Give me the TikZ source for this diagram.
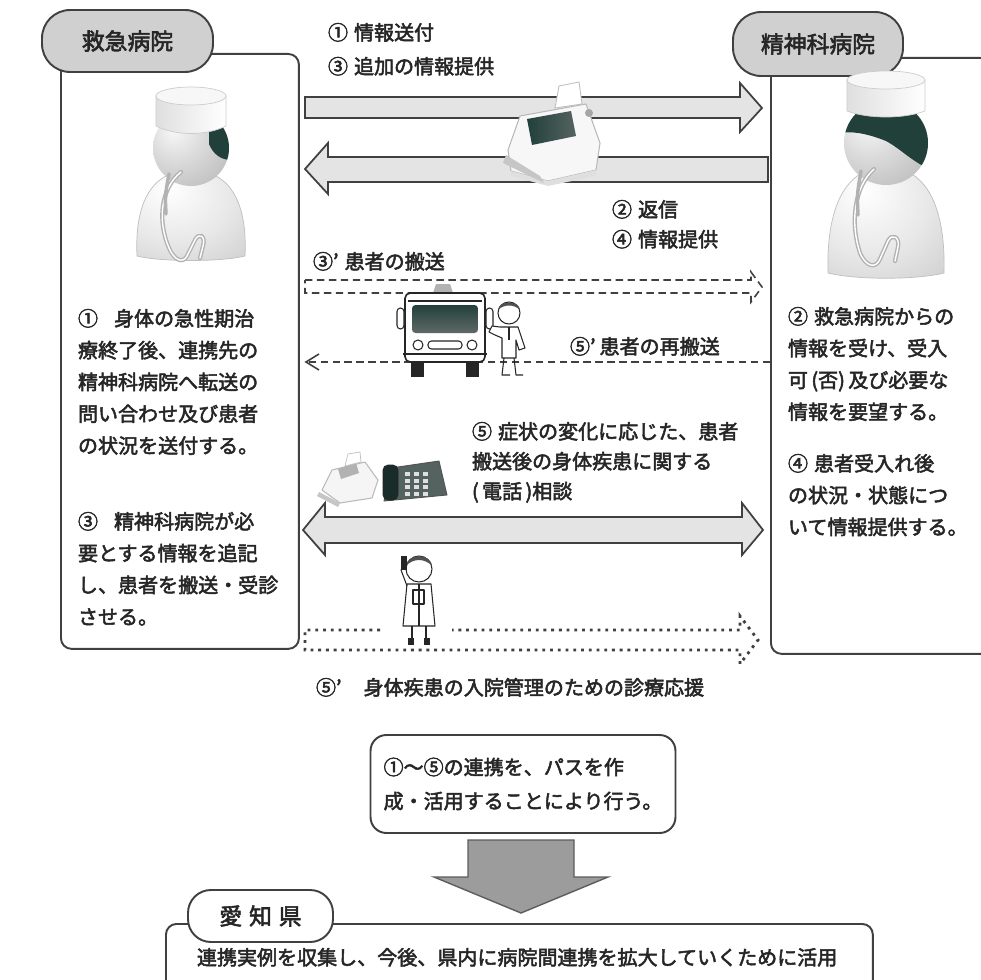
\documentclass[tikz,border=0pt]{standalone}
\usepackage{fontspec}
\setmainfont{Noto Sans CJK JP}[FakeBold=2.5]
\usetikzlibrary{calc}
\definecolor{ink}{HTML}{262626}
\definecolor{rule}{HTML}{404040}
\definecolor{pillgray}{HTML}{D0D0D0}
\definecolor{lanefill}{HTML}{E4E4E4}
\definecolor{deepteal}{HTML}{22403A}
\definecolor{arrowgray}{HTML}{9C9C9C}
\pgfdeclareradialshading{headshade}{\pgfpoint{-12bp}{12bp}}{%
  color(0bp)=(gray!6); color(18bp)=(gray!28); color(40bp)=(gray!52); color(55bp)=(gray!62); color(100bp)=(gray!62)}
\pgfdeclareradialshading{bodyshade}{\pgfpoint{-10bp}{15bp}}{%
  color(0bp)=(white); color(25bp)=(gray!18); color(50bp)=(gray!42); color(100bp)=(gray!50)}
\begin{document}
\begin{tikzpicture}[x=0.02cm,y=-0.02cm,
  panel/.style={draw=rule, line width=1.1pt, rounded corners=6pt, anchor=north west, inner sep=0pt},
  pill/.style={draw=rule, line width=1.1pt, fill=pillgray, rounded corners=16pt, inner sep=0pt,
               font=\fontsize{13pt}{15pt}\selectfont, text=ink},
  txt/.style={anchor=north west, inner sep=0pt, outer sep=0pt, align=left, text=ink,
              font=\fontsize{11.4pt}{18.1pt}\selectfont},
  lane/.style={draw=rule, line width=1pt, fill=lanefill, line join=miter},
  dashline/.style={draw=rule, line width=0.9pt, dash pattern=on 4.2pt off 2.6pt},
  dotline/.style={draw=rule, line width=1.6pt, dash pattern=on 1.6pt off 2.8pt},
  art/.style={draw=ink, line width=0.6pt, line join=round},
  tube/.style={gray!60, line width=2.4pt, line cap=round},
  tubecore/.style={white, line width=0.8pt, line cap=round},
]
\useasboundingbox (0,0) rectangle (981,980);
\clip (0,0) rectangle (981,980);
\fill[white] (0,0) rectangle (981,980);

% ---------- hospital panels and their tags ----------
\node[panel, minimum width=4.76cm, minimum height=11.9cm] (erpanel) at (60,53) {};
\node[pill, minimum width=3.42cm, minimum height=1.24cm] (ertag) at (127.5,41) {救急病院};
\node[panel, minimum width=4.4cm, minimum height=11.92cm] (pspanel) at (770,57) {};
\node[pill, minimum width=3.4cm, minimum height=1.28cm] (pstag) at (818,44) {精神科病院};

% ---------- doctor, emergency hospital ----------
\begin{scope}[shift={(191,148)}]
  \shade[shading=bodyshade, draw=gray!50, line width=0.4pt]
    (-54,108) .. controls (-57,45) and (-32,22) .. (0,22) .. controls (32,22) and (57,45) .. (54,108)
    .. controls (30,114) and (-30,114) .. cycle;
  \shade[shading=headshade] (0,0) circle (38);
  \begin{scope}
    \clip (0,0) circle (38);
    \fill[deepteal] (18,-22) -- (40,-22) -- (40,12) .. controls (30,12) and (22,6) .. (18,-4) -- cycle;
  \end{scope}
  \shade[left color=gray!25, right color=white, draw=gray!40, line width=0.4pt]
    (-35,-52) -- (-35,-22) .. controls (-15,-12) and (15,-12) .. (35,-22) -- (35,-52) -- cycle;
  \filldraw[fill=gray!6, draw=gray!40, line width=0.4pt] (0,-52) ellipse (35 and 9);
  \draw[tube]
    (-10,24) .. controls (-30,40) and (-34,72) .. (-22,100) .. controls (-17,112) and (-8,116) .. (-4,108)
    -- (4,92) .. controls (8,84) and (15,88) .. (12,98) -- (9,110);
  \draw[tubecore]
    (-10,24) .. controls (-30,40) and (-34,72) .. (-22,100) .. controls (-17,112) and (-8,116) .. (-4,108)
    -- (4,92) .. controls (8,84) and (15,88) .. (12,98) -- (9,110);
  \draw[tube, line width=2pt] (-22,26) .. controls (-26,48) .. (-25,66);
\end{scope}

% ---------- doctor, psychiatric hospital ----------
\begin{scope}[shift={(886,143)}]
  \shade[shading=bodyshade, draw=gray!50, line width=0.4pt]
    (-58,130) .. controls (-60,55) and (-35,24) .. (0,24) .. controls (35,24) and (60,55) .. (58,130)
    .. controls (30,137) and (-30,137) .. cycle;
  \shade[shading=headshade] (0,0) circle (42);
  \begin{scope}
    \clip (0,0) circle (42);
    \fill[deepteal] (-45,-32) -- (45,-32) -- (45,26) .. controls (30,22) and (15,6) .. (0,-2)
      .. controls (-20,-10) and (-35,-12) .. (-45,-10) -- cycle;
  \end{scope}
  \shade[left color=gray!25, right color=white, draw=gray!40, line width=0.4pt]
    (-39,-63) -- (-39,-32) .. controls (-18,-24) and (18,-24) .. (39,-32) -- (39,-63) -- cycle;
  \filldraw[fill=gray!6, draw=gray!40, line width=0.4pt] (0,-63) ellipse (39 and 9);
  \draw[tube]
    (-12,26) .. controls (-32,44) and (-36,80) .. (-26,110) .. controls (-20,124) and (-10,126) .. (-6,116)
    -- (2,98) .. controls (6,90) and (14,94) .. (12,104) -- (9,118);
  \draw[tubecore]
    (-12,26) .. controls (-32,44) and (-36,80) .. (-26,110) .. controls (-20,124) and (-10,126) .. (-6,116)
    -- (2,98) .. controls (6,90) and (14,94) .. (12,104) -- (9,118);
  \draw[tube, line width=2pt] (-25,28) .. controls (-29,52) .. (-28,72);
\end{scope}

% ---------- paper lanes: information sent / reply ----------
\filldraw[lane] (305,97) -- (740,97) -- (740,83) -- (762,108) -- (740,132) -- (740,118) -- (305,118) -- cycle;
\filldraw[lane] (768,157) -- (328,157) -- (328,143) -- (305,169) -- (328,194) -- (328,182) -- (768,182) -- cycle;
\node[txt, font=\fontsize{11.4pt}{19.3pt}\selectfont] (sendlbl) at (328,23) {①\hspace{.3em}情報送付\\③\hspace{.3em}追加の情報提供};
\node[txt, font=\fontsize{11.4pt}{17pt}\selectfont] (replylbl) at (612,200) {②\hspace{.3em}返信\\④\hspace{.3em}情報提供};

% fax machine standing on the lanes
\filldraw[fill=gray!6, draw=gray!55, line width=0.6pt, line join=round]
  (508,150) -- (520,116) -- (586,104) -- (600,143) -- (596,170) -- (548,181) -- (511,171) -- cycle;
\fill[gray!25] (511,171) -- (548,181) -- (596,170) -- (596,176) -- (548,186) -- (511,176) -- cycle;
\shade[left color=deepteal, right color=deepteal!45!gray] (527,119) -- (571,111) -- (576,136) -- (532,145) -- cycle;
\filldraw[fill=white, draw=gray!50, line width=0.5pt] (555,108) -- (559,86) -- (579,82) -- (582,104) -- cycle;
\fill[gray!70] (589,113) circle (4);
\fill[gray!45] (506,155) -- (540,176) -- (544,183) -- (503,163) -- cycle;

% ---------- patient transfer (dashed) ----------
\node[txt] (translbl) at (313,252) {③'\hspace{.3em}患者の搬送};
\draw[dashline] (305,280) -- (751,280) -- (751,272) -- (762,287) -- (751,302) -- (751,293) -- (305,293) -- cycle;
\node[txt] (returnlbl) at (570,337) {⑤'\hspace{.2em}患者の再搬送};
\coordinate (retstart) at (770,362);
\coordinate (retend) at (306,362);
\draw[dashline] (retstart) -- (retend);
\draw[draw=rule, line width=0.9pt] (319,354) -- (retend) -- (319,370);

% ambulance, front view
\fill[gray!60] (433,293) -- (436,284) -- (450,284) -- (453,293) -- cycle;
\filldraw[art, fill=white, line width=0.9pt, rounded corners=3pt] (405,293) rectangle (485,362);
\draw[art] (408,301) -- (482,301);
\shade[top color=deepteal, bottom color=deepteal!35!gray, rounded corners=2pt] (412,305) rectangle (478,333);
\filldraw[art, fill=white, rounded corners=2pt] (397,308) rectangle (404,329);
\filldraw[art, fill=white, rounded corners=2pt] (486,308) rectangle (493,329);
\filldraw[art, fill=white] (418,345) circle (5);
\filldraw[art, fill=white] (472,345) circle (5);
\draw[art, rounded corners=2pt] (428,341) rectangle (462,349);
\draw[art] (403,354) -- (487,354);
\fill[ink] (411,362) rectangle (424,377);
\fill[ink] (466,362) rectangle (479,377);
% person beside the ambulance
\filldraw[art, fill=white] (509,313) circle (11);
\fill[ink!80] (498,310) .. controls (499,300) and (519,300) .. (520,310) .. controls (514,304) and (504,304) .. cycle;
\filldraw[art, fill=white] (500,327) -- (518,327) -- (525,348) -- (519,350) -- (516,340) -- (516,358)
  -- (502,358) -- (502,338) -- (495,335) -- (489,332) -- (492,326) -- cycle;
\draw[art] (509,327) -- (509,340);
\draw[art] (504,358) -- (502,375) -- (510,375);
\draw[art] (514,358) -- (516,375) -- (523,375);

% ---------- telephone consultation ----------
\node[txt, font=\fontsize{11.4pt}{17pt}\selectfont] (consultlbl) at (472,422)
  {⑤\hspace{.3em}症状の変化に応じた、患者\\搬送後の身体疾患に関する\\(\,電話\,)相談};
\filldraw[lane] (303,530) -- (325,503) -- (325,517) -- (742,517) -- (742,503) -- (763,530)
  -- (742,555) -- (742,543) -- (325,543) -- (325,555) -- cycle;
% small fax
\filldraw[fill=gray!8, draw=gray!55, line width=0.6pt, line join=round]
  (322,490) -- (332,470) -- (365,462) -- (378,480) -- (372,498) -- (340,503) -- cycle;
\fill[gray!60] (338,469) -- (356,463) -- (359,473) -- (341,479) -- cycle;
\filldraw[fill=white, draw=gray!50, line width=0.4pt] (345,466) -- (348,454) -- (360,452) -- (361,462) -- cycle;
\fill[gray!45] (319,492) -- (340,503) -- (338,507) -- (317,496) -- cycle;
% desk telephone
\filldraw[fill=deepteal!45!gray, draw=ink!80, line width=0.5pt, line join=round] (384,501) -- (391,468) -- (439,461) -- (447,495) -- cycle;
\filldraw[fill=deepteal!70!black, draw=ink, line width=0.5pt, rounded corners=3pt] (383,465) rectangle (398,500);
\foreach \i in {0,1,2} {
  \foreach \j in {0,1,2,3} {
    \fill[gray!25] ({405+9*\i},{472+6.5*\j}) rectangle ++(5,4);
  }
}

% ---------- visiting support (dotted) ----------
\draw[dotline] (380,630) -- (305,630) -- (305,650) -- (740,650) -- (740,664) -- (758,640)
  -- (740,616) -- (740,630) -- (452,630);
% staff member on the phone
\filldraw[art, fill=white] (419,569) circle (13);
\fill[ink!80] (406,566) .. controls (407,553) and (431,553) .. (432,566) .. controls (425,558) and (413,558) .. cycle;
\filldraw[art, fill=white] (407,584) -- (431,584) -- (435,626) -- (403,626) -- cycle;
\draw[art] (419,584) -- (419,626);
\draw[art] (413,590) rectangle (424,604);
\draw[art] (407,586) -- (401,570) -- (405,564);
\fill[ink] (401,556) rectangle (407,570);
\draw[art] (412,626) -- (412,640);
\draw[art] (426,626) -- (426,640);
\fill[ink] (408,638) rectangle (414,645);
\fill[ink] (424,638) rectangle (430,645);
\node[txt] (supportlbl) at (316,678) {⑤'\hspace{1.1em}身体疾患の入院管理のための診療応援};

% ---------- panel texts ----------
\node[txt] (ertext1) at (78,309) {①\hspace{.8em}身体の急性期治\\療終了後、連携先の\\精神科病院へ転送の\\問い合わせ及び患者\\の状況を送付する。};
\node[txt] (ertext2) at (78,512) {③\hspace{.8em}精神科病院が必\\要とする情報を追記\\し、患者を搬送・受診\\させる。};
\node[txt] (pstext1) at (788,307) {②\hspace{.3em}救急病院からの\\情報を受け、受入\\可\,(否)\,及び必要な\\情報を要望する。};
\node[txt] (pstext2) at (788,454) {④\hspace{.3em}患者受入れ後\\の状況・状態につ\\いて情報提供する。};

% ---------- path summary and prefecture ----------
\node[draw=rule, line width=1.1pt, rounded corners=9pt, fill=white, minimum width=6.1cm, minimum height=1.96cm,
      align=left, text=ink, font=\fontsize{11.4pt}{19.3pt}\selectfont] (pathbox) at (523,784)
  {①～⑤の連携を、パスを作\\成・活用することにより行う。};
\filldraw[fill=arrowgray, draw=rule!85, line width=0.8pt, line join=miter]
  (468,840) -- (574,840) -- (574,877) -- (608,877) -- (521,913) -- (434,877) -- (468,877) -- cycle;
\node[panel, minimum width=14.14cm, minimum height=2cm] (aichipanel) at (165,923) {};
\node[pill, fill=white, rounded corners=13pt, minimum width=2.9cm, minimum height=1.04cm] (aichitag) at (260.5,916) {愛\hspace{.3em}知\hspace{.3em}県};
\node[txt] (aichitext) at (197,948) {連携実例を収集し、今後、県内に病院間連携を拡大していくために活用};
\end{tikzpicture}
\end{document}
